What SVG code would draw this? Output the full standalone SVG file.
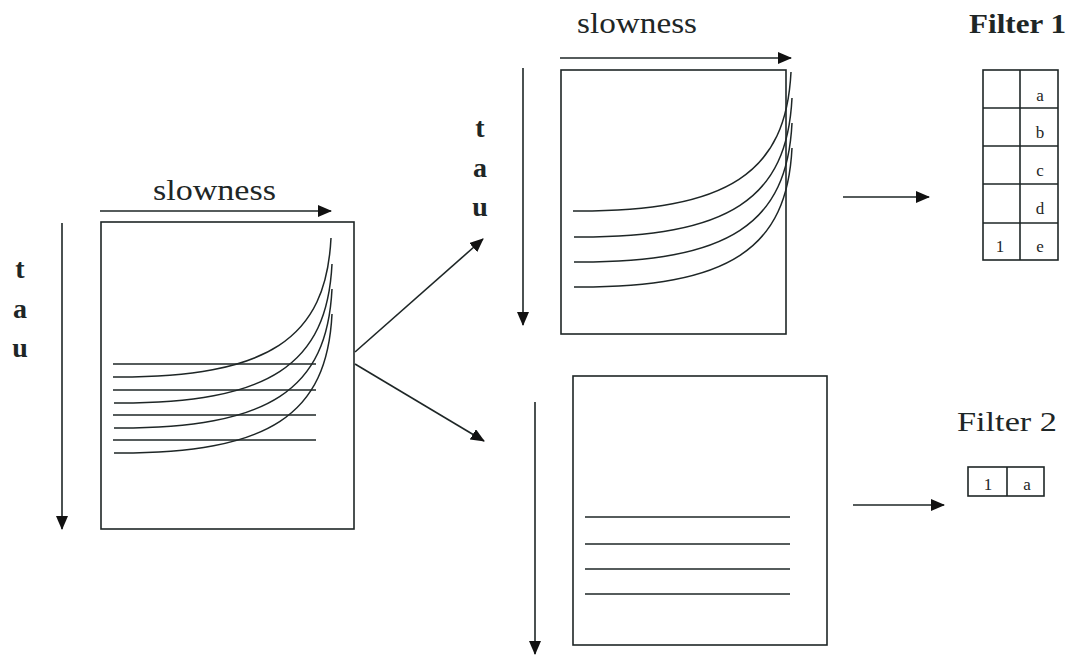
<svg xmlns="http://www.w3.org/2000/svg" width="1071" height="656" viewBox="0 0 1071 656">
<style>
.ln{stroke:#1e2626;stroke-width:1.5;fill:none}
.bx{stroke:#1e2626;stroke-width:1.6;fill:#fff}
.cell{stroke:#1e2626;stroke-width:1.6;fill:none}
.ax{stroke:#1e2626;stroke-width:1.6;fill:none;marker-end:url(#ah)}
.lbl{font-family:"Liberation Serif",serif;fill:#1e2626}
.tau{font-family:"Liberation Serif",serif;font-weight:bold;font-size:28px;fill:#1e2626;text-anchor:middle}
.cl{font-family:"Liberation Serif",serif;font-size:17px;fill:#1e2626;text-anchor:middle}
</style>
<defs>
<marker id="ah" markerUnits="userSpaceOnUse" markerWidth="14" markerHeight="12" refX="13" refY="6" orient="auto">
<path d="M0,0 L14,6 L0,12 z" fill="#111"/>
</marker>
<path id="cv" d="M113,377 C270,378 326,338 331,238"/>
</defs>
<rect width="1071" height="656" fill="#fff"/>

<g id="panel-input">
<text class="lbl" x="153" y="200" font-size="29" textLength="123" lengthAdjust="spacingAndGlyphs">slowness</text>
<line class="ax" x1="100" y1="211" x2="331" y2="211"/>
<line class="ax" x1="62" y1="223" x2="62" y2="529"/>
<text class="tau" x="20" y="278">t</text>
<text class="tau" x="20" y="318">a</text>
<text class="tau" x="20" y="357">u</text>
<rect class="bx" x="101" y="222" width="253" height="307"/>
<line class="ln" x1="113" y1="364" x2="316" y2="364"/>
<line class="ln" x1="113" y1="390" x2="316" y2="390"/>
<line class="ln" x1="113" y1="415" x2="316" y2="415"/>
<line class="ln" x1="113" y1="440" x2="316" y2="440"/>
<use href="#cv" class="ln"/>
<use href="#cv" class="ln" transform="translate(1,26)"/>
<use href="#cv" class="ln" transform="translate(1,51)"/>
<use href="#cv" class="ln" transform="translate(1,76)"/>
</g>

<g id="panel-curves">
<text class="lbl" x="577" y="33" font-size="29" textLength="120" lengthAdjust="spacingAndGlyphs">slowness</text>
<line class="ax" x1="560" y1="58" x2="791" y2="58"/>
<line class="ax" x1="523" y1="68" x2="523" y2="325"/>
<text class="tau" x="480" y="137">t</text>
<text class="tau" x="480" y="177">a</text>
<text class="tau" x="480" y="216">u</text>
<rect class="bx" x="561" y="70" width="225" height="264"/>
<use href="#cv" class="ln" transform="translate(460,-166)"/>
<use href="#cv" class="ln" transform="translate(461,-140)"/>
<use href="#cv" class="ln" transform="translate(461,-115)"/>
<use href="#cv" class="ln" transform="translate(461,-90)"/>
</g>

<g id="panel-flat">
<line class="ax" x1="535" y1="402" x2="535" y2="654"/>
<rect class="bx" x="573" y="376" width="254" height="269"/>
<line class="ln" x1="585" y1="517" x2="790" y2="517"/>
<line class="ln" x1="585" y1="544" x2="790" y2="544"/>
<line class="ln" x1="585" y1="569" x2="790" y2="569"/>
<line class="ln" x1="585" y1="594" x2="790" y2="594"/>
</g>

<g id="filter-1">
<text class="lbl" x="969" y="33" font-size="27" font-weight="bold" textLength="97" lengthAdjust="spacingAndGlyphs">Filter 1</text>
<rect class="cell" x="983" y="70" width="75" height="190"/>
<line class="cell" x1="1020" y1="70" x2="1020" y2="260" stroke-width="2"/>
<line class="cell" x1="983" y1="108" x2="1058" y2="108" stroke-width="2"/>
<line class="cell" x1="983" y1="146" x2="1058" y2="146" stroke-width="2"/>
<line class="cell" x1="983" y1="184" x2="1058" y2="184" stroke-width="2"/>
<line class="cell" x1="983" y1="223" x2="1058" y2="223" stroke-width="2"/>
<text class="cl" x="1040" y="101">a</text>
<text class="cl" x="1040" y="138">b</text>
<text class="cl" x="1040" y="176">c</text>
<text class="cl" x="1040" y="214">d</text>
<text class="cl" x="1040" y="252">e</text>
<text class="cl" x="1000" y="252">1</text>
</g>

<g id="filter-2">
<text class="lbl" x="957" y="431" font-size="27" textLength="100" lengthAdjust="spacingAndGlyphs">Filter 2</text>
<rect class="cell" x="968" y="467" width="76" height="29"/>
<line class="cell" x1="1007" y1="467" x2="1007" y2="496" stroke-width="2"/>
<text class="cl" x="988" y="490">1</text>
<text class="cl" x="1027" y="490">a</text>
</g>

<g id="connectors">
<line class="ax" x1="355" y1="352" x2="483" y2="239"/>
<line class="ax" x1="355" y1="364" x2="484" y2="441"/>
<line class="ax" x1="843" y1="197" x2="929" y2="197"/>
<line class="ax" x1="853" y1="505" x2="944" y2="505"/>
</g>
</svg>
